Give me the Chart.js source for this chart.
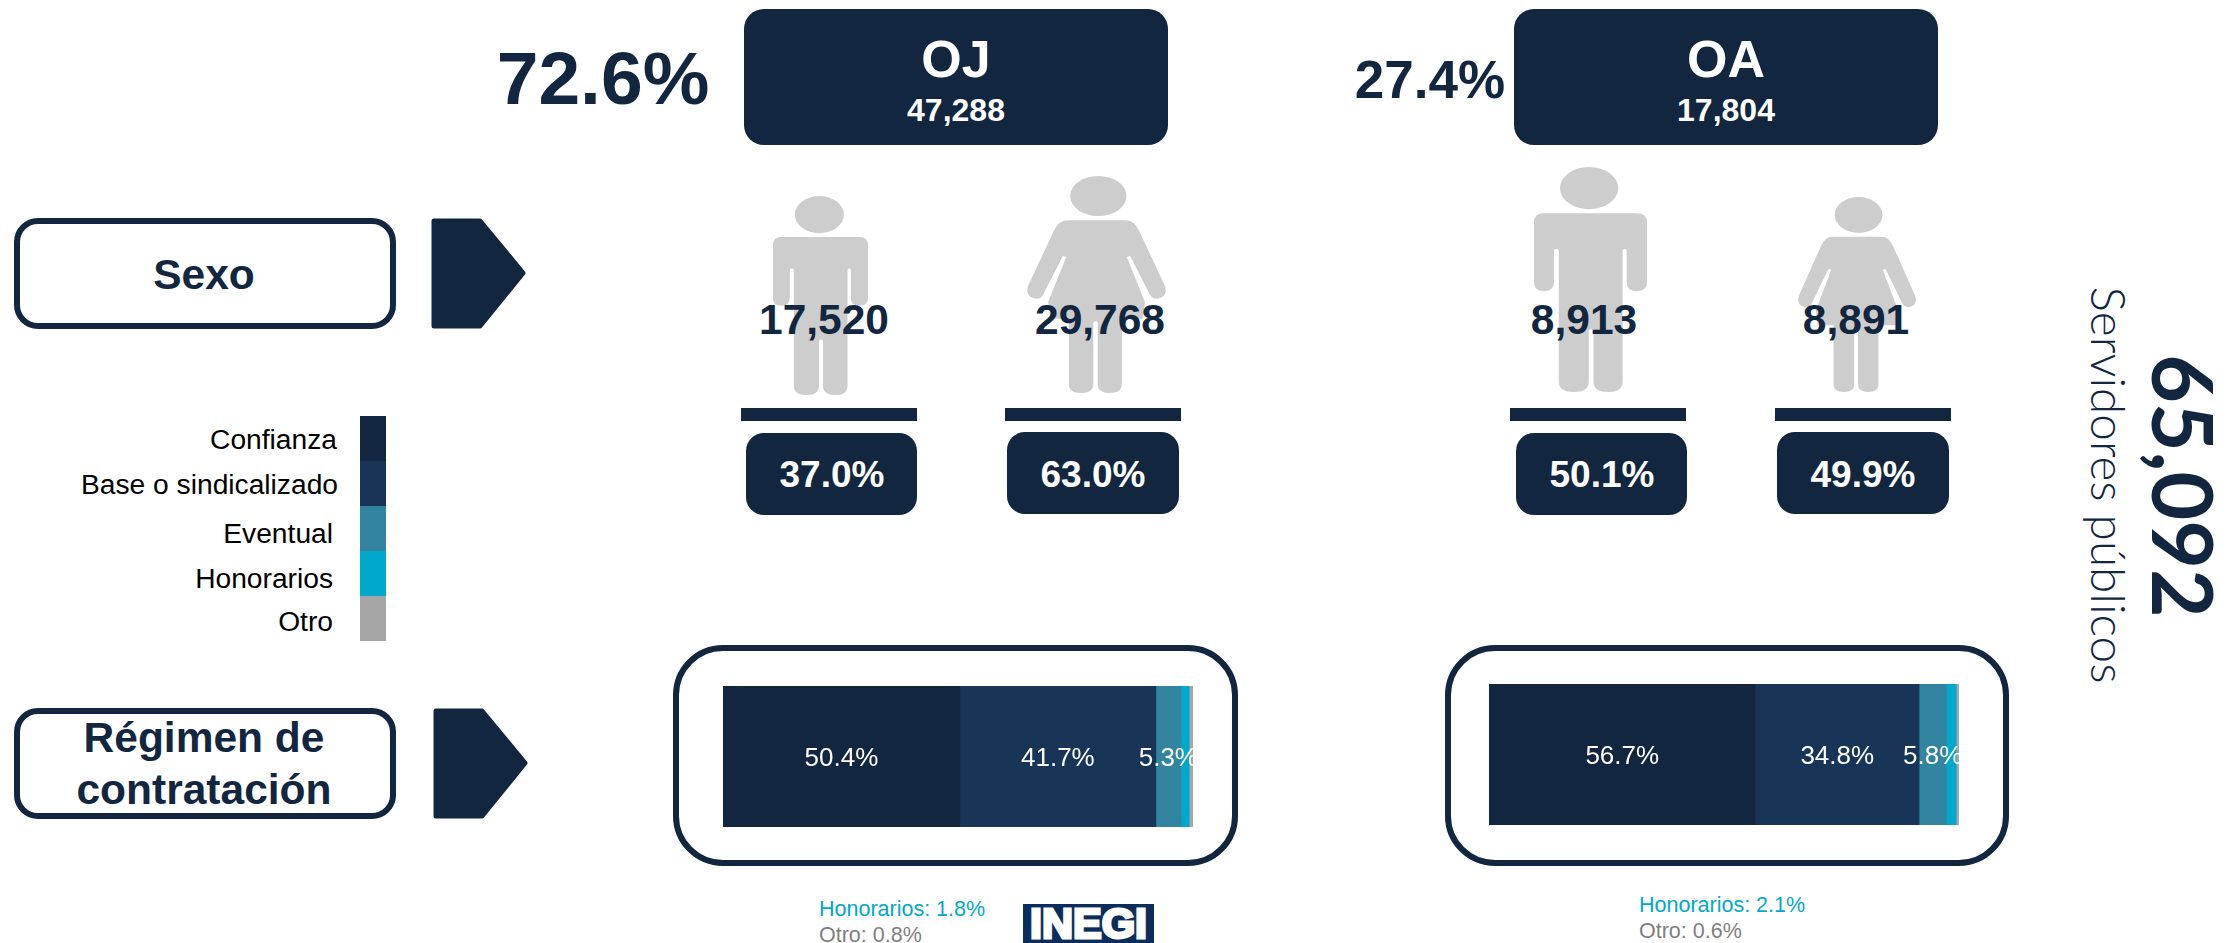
<!DOCTYPE html>
<html lang="es">

<head>
    <meta charset="UTF-8">
    <title>Servidores públicos</title>
    <script src="https://cdn.jsdelivr.net/npm/chart.js"></script>
    <style>
        body {
            margin: 0;
            width: 2233px;
            height: 943px;
            overflow: hidden;
            position: relative;
            background: #fff;
            font-family: "Liberation Sans", Arial, sans-serif;
            color: #12263f;
        }

        .caja, .marco, .raya, .flecha, .figura, .t, canvas, #tira, #logo { position: absolute; }

        .caja { background: #12263f; }
        .marco { box-sizing: border-box; border: 6px solid #12263f; background: #fff; }
        .raya { background: #12263f; height: 13px; width: 176px; top: 408px; }
        .figura { fill: #cdcdcd; }

        /* texto centrado sobre el punto left/top */
        .t { transform: translate(-50%, -50%); white-space: nowrap; font-weight: bold; text-align: center; }
        .blanco { color: #fff; }
        .n { font-size: 42.5px; top: 320px; }
        .pc { font-size: 37px; top: 475px; color: #fff; }

        .ley { position: absolute; font-size: 28.2px; color: #000; white-space: nowrap; transform: translate(-100%, -50%); }
        .nota { position: absolute; font-size: 21.5px; white-space: nowrap; transform: translateY(-50%); }

        #tira { left: 360px; top: 416px; width: 26px; height: 225px; }
        #tira div { height: 20%; }

        #logo {
            left: 1023px; top: 904px; width: 131px; height: 39px;
            background: #0b2d5c; color: #fff; font-weight: bold; font-size: 43px;
            line-height: 39px; text-align: center;
            -webkit-text-stroke: 3px #fff;
        }

        #total, #servidores { position: absolute; transform: translate(-50%, -50%) rotate(90deg); white-space: nowrap; }
        #total { left: 2184px; top: 486px; font: 700 84px Lato, sans-serif; }
        #servidores { left: 2109px; top: 485px; font: 300 47.7px Lato, sans-serif; }
    </style>
</head>

<body>

    <svg width="0" height="0" style="position:absolute">
        <symbol id="hombre" viewBox="0 0 283 598" preserveAspectRatio="none">
            <ellipse cx="138" cy="56" rx="73" ry="56" />
            <path d="M25 123H258Q283 123 283 148V305Q283 330 257 330Q232 330 232 305V222Q232 218 227 218Q222 218 222 222V570Q222 598 186 598Q149 598 149 570V435Q143 428 137 435V570Q137 598 100 598Q62 598 62 570V222Q62 218 56 218Q50 218 50 222V305Q50 330 25 330Q0 330 0 305V148Q0 123 25 123Z" />
        </symbol>
        <symbol id="mujer" viewBox="0 0 415 651" preserveAspectRatio="none">
            <ellipse cx="213" cy="60" rx="84" ry="60" />
            <path d="M120 133H295Q320 133 335 165L412 330Q422 362 390 368Q372 370 364 350L308 240L298 243L352 378L345 428H283V625Q283 651 247 651Q211 651 211 625V440Q205 432 198 440V625Q198 651 161 651Q125 651 125 625V428H70L63 378L117 243L107 240L51 350Q43 370 25 368Q-7 362 3 330L80 165Q95 133 120 133Z" />
        </symbol>
    </svg>

    <!-- encabezado -->
    <div class="t" id="pctOJ" style="left:603px;top:78px;font-size:75px"></div>
    <div class="t" id="pctOA" style="left:1430px;top:79px;font-size:53px"></div>
    <div class="caja" style="left:744px;top:9px;width:424px;height:136px;border-radius:20px"></div>
    <div class="caja" style="left:1514px;top:9px;width:424px;height:136px;border-radius:20px"></div>
    <div class="t blanco" id="tituloOJ" style="left:956px;top:59px;font-size:52px"></div>
    <div class="t blanco" id="totalOJ" style="left:956px;top:110px;font-size:32px"></div>
    <div class="t blanco" id="tituloOA" style="left:1726px;top:59px;font-size:52px"></div>
    <div class="t blanco" id="totalOA" style="left:1726px;top:110px;font-size:32px"></div>

    <!-- etiquetas de la izquierda -->
    <div class="marco" style="left:14px;top:218px;width:382px;height:111px;border-radius:24px"></div>
    <div class="t" style="left:204px;top:275px;font-size:42.5px">Sexo</div>
    <svg class="flecha" style="left:431px;top:218px" width="96" height="111"><path d="M3 3H49L92 55L49 108H3Z" fill="#12263f" stroke="#12263f" stroke-width="5" stroke-linejoin="round" /></svg>

    <div class="marco" style="left:14px;top:708px;width:382px;height:111px;border-radius:24px"></div>
    <div class="t" style="left:204px;top:738px;font-size:42.5px">Régimen de</div>
    <div class="t" style="left:204px;top:790px;font-size:42.5px">contratación</div>
    <svg class="flecha" style="left:433px;top:708px" width="96" height="111"><path d="M3 3H49L92 55L49 108H3Z" fill="#12263f" stroke="#12263f" stroke-width="5" stroke-linejoin="round" /></svg>

    <!-- leyenda -->
    <div id="tira"></div>
    <div id="leyenda"></div>

    <!-- figuras por sexo -->
    <svg class="figura" style="left:773px;top:196px" width="95" height="199"><use href="#hombre" width="95" height="199" /></svg>
    <svg class="figura" style="left:1027px;top:176px" width="139" height="217"><use href="#mujer" width="139" height="217" /></svg>
    <svg class="figura" style="left:1534px;top:167px" width="113" height="225"><use href="#hombre" width="113" height="225" /></svg>
    <svg class="figura" style="left:1798px;top:197px" width="118" height="195"><use href="#mujer" width="118" height="195" /></svg>

    <div class="t n" id="numHomOJ" style="left:824px"></div>
    <div class="t n" id="numMujOJ" style="left:1100px"></div>
    <div class="t n" id="numHomOA" style="left:1584px"></div>
    <div class="t n" id="numMujOA" style="left:1856px"></div>

    <div class="raya" style="left:741px"></div>
    <div class="raya" style="left:1005px"></div>
    <div class="raya" style="left:1510px"></div>
    <div class="raya" style="left:1775px"></div>

    <div class="caja" style="left:746px;top:433px;width:171px;height:82px;border-radius:18px"></div>
    <div class="caja" style="left:1007px;top:432px;width:172px;height:82px;border-radius:18px"></div>
    <div class="caja" style="left:1516px;top:433px;width:171px;height:82px;border-radius:18px"></div>
    <div class="caja" style="left:1777px;top:432px;width:172px;height:82px;border-radius:18px"></div>

    <div class="t pc" id="pctHomOJ" style="left:832px"></div>
    <div class="t pc" id="pctMujOJ" style="left:1093px"></div>
    <div class="t pc" id="pctHomOA" style="left:1602px"></div>
    <div class="t pc" id="pctMujOA" style="left:1863px"></div>

    <!-- barras de regimen -->
    <div class="marco" style="left:673px;top:645px;width:565px;height:221px;border-radius:50px"></div>
    <div class="marco" style="left:1445px;top:645px;width:564px;height:221px;border-radius:50px"></div>
    <canvas id="barraOJ" style="left:723px;top:686px" width="470" height="141"></canvas>
    <canvas id="barraOA" style="left:1489px;top:684px" width="470" height="141"></canvas>

    <div class="nota" id="honOJ" style="left:819px;top:909px;color:#00a8cc"></div>
    <div class="nota" id="otroOJ" style="left:819px;top:935px;color:#7f7f7f"></div>
    <div class="nota" id="honOA" style="left:1639px;top:905px;color:#00a8cc"></div>
    <div class="nota" id="otroOA" style="left:1639px;top:931px;color:#7f7f7f"></div>

    <div id="logo">INEGI</div>

    <div id="total"></div>
    <div id="servidores">Servidores públicos</div>

</body>

</html>

<script>

    // Datos
    const categorias = ['Confianza', 'Base o sindicalizado', 'Eventual', 'Honorarios', 'Otro'];
    const regimenOJ = [50.4, 41.7, 5.3, 1.8, 0.8];
    const regimenOA = [56.7, 34.8, 5.8, 2.1, 0.6];
    const organos = ['OJ', 'OA'];
    const totales = ['47,288', '17,804'];
    const pctOrganos = ['72.6%', '27.4%'];
    const hombres = ['17,520', '8,913'];
    const mujeres = ['29,768', '8,891'];
    const pctHombres = ['37.0%', '50.1%'];
    const pctMujeres = ['63.0%', '49.9%'];
    const totalGeneral = '65,092';

    const colores = ['#12263f', '#183558', '#33859f', '#00a8cc', '#a6a6a6'];

    function poner(id, texto) {
        document.getElementById(id).textContent = texto;
    }

    organos.forEach(function (o, i) {
        poner('pct' + o, pctOrganos[i]);
        poner('titulo' + o, o);
        poner('total' + o, totales[i]);
        poner('numHom' + o, hombres[i]);
        poner('numMuj' + o, mujeres[i]);
        poner('pctHom' + o, pctHombres[i]);
        poner('pctMuj' + o, pctMujeres[i]);
    });
    poner('total', totalGeneral);

    poner('honOJ', categorias[3] + ': ' + regimenOJ[3] + '%');
    poner('otroOJ', categorias[4] + ': ' + regimenOJ[4] + '%');
    poner('honOA', categorias[3] + ': ' + regimenOA[3] + '%');
    poner('otroOA', categorias[4] + ': ' + regimenOA[4] + '%');

    // leyenda: tira de colores y nombres (cada uno un poco desalineado, como en el original)
    const derechaLeyenda = [337, 338, 333, 333, 333];
    const altoLeyenda = [439, 484, 533, 578, 621];
    categorias.forEach(function (c, i) {
        const cuadro = document.createElement('div');
        cuadro.style.background = colores[i];
        document.getElementById('tira').appendChild(cuadro);

        const nombre = document.createElement('div');
        nombre.className = 'ley';
        nombre.textContent = c;
        nombre.style.left = derechaLeyenda[i] + 'px';
        nombre.style.top = altoLeyenda[i] + 'px';
        document.getElementById('leyenda').appendChild(nombre);
    });

    // etiquetas blancas solo en los tres primeros segmentos
    const etiquetas = {
        id: 'etiquetas',
        afterDatasetsDraw(chart) {
            const ctx = chart.ctx;
            ctx.save();
            ctx.fillStyle = '#fff';
            ctx.font = '26px "Liberation Sans"';
            ctx.textAlign = 'center';
            ctx.textBaseline = 'middle';
            chart.data.datasets.forEach(function (d, i) {
                if (i > 2) return;
                const barra = chart.getDatasetMeta(i).data[0];
                ctx.fillText(d.data[0].toFixed(1) + '%', (barra.x + barra.base) / 2, barra.y + 2);
            });
            ctx.restore();
        }
    };

    function plotarBarra(id, valores) {
        new Chart(document.getElementById(id), {
            type: 'bar',
            data: {
                labels: [''],
                datasets: categorias.map(function (c, i) {
                    return {
                        label: c,
                        data: [valores[i]],
                        backgroundColor: colores[i],
                        barPercentage: 1,
                        categoryPercentage: 1
                    };
                })
            },
            options: {
                indexAxis: 'y',
                responsive: false,
                animation: false,
                layout: { padding: 0 },
                plugins: { legend: { display: false }, tooltip: { enabled: false } },
                scales: {
                    x: { stacked: true, display: false, min: 0, max: 100 },
                    y: { stacked: true, display: false }
                }
            },
            plugins: [etiquetas]
        });
    }

    plotarBarra('barraOJ', regimenOJ);
    plotarBarra('barraOA', regimenOA);

</script>
